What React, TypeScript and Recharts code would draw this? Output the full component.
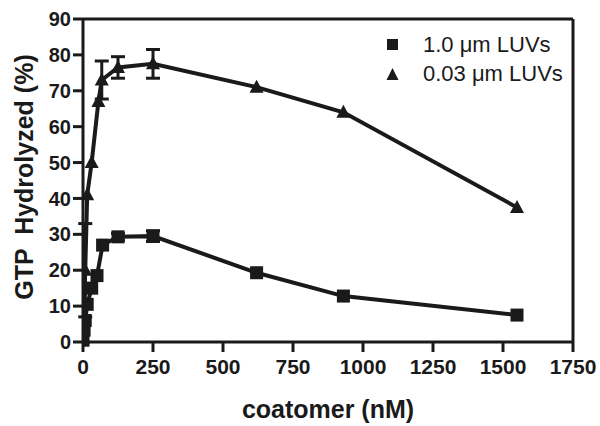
import React from 'react';
import {
  ComposedChart,
  Line,
  XAxis,
  YAxis,
  ErrorBar,
  ReferenceLine,
} from 'recharts';

// 1.0 um LUVs (squares)
const bigConc = [0, 4, 8, 15, 31, 50, 70, 125, 250, 620, 930, 1550];
const bigHyd = [0.5, 3.3, 6, 10.5, 15, 18.5, 27, 29.3, 29.5, 19.3, 12.8, 7.5];
const bigErr = [0, 0, 0, 0, 0, 0, 0, 1, 1.5, 0, 0, 0];

// 0.03 um LUVs (triangles)
const smallConc = [0, 8, 15, 31, 55, 67, 125, 250, 620, 930, 1550];
const smallHyd = [1, 20, 41, 50, 67, 73, 76.5, 77.5, 71, 64, 37.5];
const smallErr = [0, 13, 0, 0, 0, 5.3, 3, 4, 0, 0, 0];

const xTicks = [0, 250, 500, 750, 1000, 1250, 1500, 1750];
const yTicks = [0, 10, 20, 30, 40, 50, 60, 70, 80, 90];

const bigData = bigConc.map((x, i) => ({ x, y: bigHyd[i], err: bigErr[i] || null }));
const smallData = smallConc.map((x, i) => ({ x, y: smallHyd[i], err: smallErr[i] || null }));

const INK = '#1a1a1a';
const FONT = '"Liberation Sans", Arial, Helvetica, sans-serif';

// eslint-disable-next-line @typescript-eslint/no-explicit-any
const SquareDot = (props: any) => {
  const { cx, cy, index } = props;
  if (cx == null || cy == null) return null;
  return <rect key={`sq-${index}`} x={cx - 6.5} y={cy - 6.5} width={13} height={13} fill={INK} />;
};

// eslint-disable-next-line @typescript-eslint/no-explicit-any
const TriangleDot = (props: any) => {
  const { cx, cy, index } = props;
  if (cx == null || cy == null) return null;
  return (
    <polygon
      key={`tr-${index}`}
      points={`${cx},${cy - 7.5} ${cx + 7},${cy + 5.5} ${cx - 7},${cy + 5.5}`}
      fill={INK}
    />
  );
};

// legend drawn as an overlay so it does not shrink the plot area
const LegendBox = () => (
  <div
    style={{
      position: 'absolute',
      top: 30,
      left: 386,
      fontFamily: FONT,
      fontSize: 22,
      color: INK,
      lineHeight: '29px',
    }}
  >
    <div style={{ display: 'flex', alignItems: 'center' }}>
      <svg width={30} height={14} style={{ marginRight: 7 }}>
        <rect x={1} y={1} width={11} height={11} fill={INK} />
      </svg>
      <span>1.0 μm LUVs</span>
    </div>
    <div style={{ display: 'flex', alignItems: 'center' }}>
      <svg width={30} height={14} style={{ marginRight: 7 }}>
        <polygon points="6.5,1 12.5,13 0.5,13" fill={INK} />
      </svg>
      <span>0.03 μm LUVs</span>
    </div>
  </div>
);

const YTitle = () => (
  <text
    x={24}
    y={177}
    transform="rotate(-90 24 177)"
    textAnchor="middle"
    dominantBaseline="central"
    fontFamily={FONT}
    fontWeight="bold"
    fontSize={25}
    fill={INK}
    style={{ whiteSpace: 'pre' }}
  >
    {'GTP  Hydrolyzed (%)'}
  </text>
);

export default function App() {
  return (
    <div style={{ position: 'absolute', left: 0, top: 0, width: 600, height: 426, background: '#fff' }}>
      <ComposedChart width={600} height={426} margin={{ top: 19, right: 27, bottom: 0, left: 0 }}>
        <XAxis
          type="number"
          dataKey="x"
          domain={[0, 1750]}
          ticks={xTicks}
          interval={0}
          allowDataOverflow
          height={84}
          stroke={INK}
          strokeWidth={3}
          tickSize={10}
          tickMargin={7}
          tick={{ fill: INK, fontSize: 21, fontWeight: 'bold', fontFamily: FONT }}
          label={{
            value: 'coatomer (nM)',
            position: 'insideBottom',
            offset: 8,
            fill: INK,
            fontSize: 25,
            fontWeight: 'bold',
            fontFamily: FONT,
          }}
        />
        <YAxis
          type="number"
          domain={[0, 90]}
          ticks={yTicks}
          interval={0}
          width={83}
          stroke={INK}
          strokeWidth={3}
          tickSize={10}
          tickMargin={2}
          tick={{ fill: INK, fontSize: 20, fontWeight: 'bold', fontFamily: FONT }}
          label={{ content: () => <YTitle /> }}
        />
        <ReferenceLine y={90} stroke={INK} strokeWidth={3} />
        <ReferenceLine x={1750} stroke={INK} strokeWidth={3} />
        <Line
          data={bigData}
          dataKey="y"
          type="linear"
          stroke={INK}
          strokeWidth={4}
          dot={SquareDot}
          activeDot={false}
          isAnimationActive={false}
          name="1.0 μm LUVs"
        >
          <ErrorBar dataKey="err" direction="y" width={7} stroke={INK} strokeWidth={3} />
        </Line>
        <Line
          data={smallData}
          dataKey="y"
          type="linear"
          stroke={INK}
          strokeWidth={4}
          dot={TriangleDot}
          activeDot={false}
          isAnimationActive={false}
          name="0.03 μm LUVs"
        >
          <ErrorBar dataKey="err" direction="y" width={7} stroke={INK} strokeWidth={3} />
        </Line>
      </ComposedChart>
      <LegendBox />
    </div>
  );
}
